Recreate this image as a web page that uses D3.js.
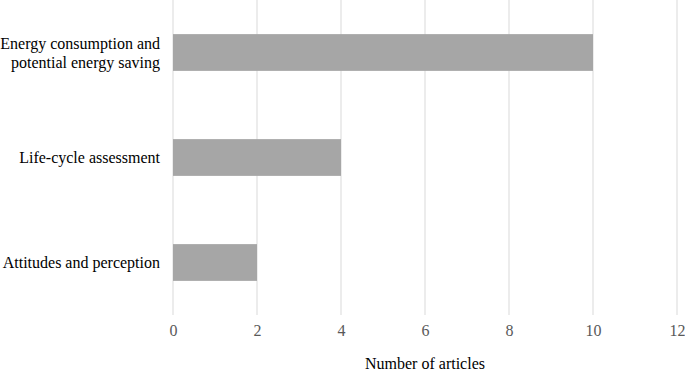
<!DOCTYPE html>
<html>
<head>
<meta charset="utf-8">
<script src="https://cdn.jsdelivr.net/npm/d3@7"></script>
<style>
  body { margin: 0; background: #fff; }
  text { font-family: "Liberation Serif", "Times New Roman", serif; }
</style>
</head>
<body>
<svg id="chart"></svg>
<script>
// data
const categories = [
  ["Energy consumption and", "potential energy saving"],
  ["Life-cycle assessment"],
  ["Attitudes and perception"]
];
const counts = [10, 4, 2];
const xTicks = [0, 2, 4, 6, 8, 10, 12];

const width = 685;
const height = 375;
const margin = { top: 0, right: 8, bottom: 60, left: 173 };

const svg = d3.select("#chart")
    .attr("width", width)
    .attr("height", height);

const x = d3.scaleLinear()
    .domain([0, 12])
    .range([margin.left, 677]);

const y = d3.scaleBand()
    .domain(d3.range(categories.length))
    .range([margin.top, 315])
    .paddingInner(0.65)
    .paddingOuter(0.325);

// gridlines
svg.append("g")
    .selectAll("line")
    .data(xTicks)
    .enter()
    .append("line")
    .attr("x1", d => x(d))
    .attr("x2", d => x(d))
    .attr("y1", 0)
    .attr("y2", 315)
    .attr("stroke", "#d9d9d9")
    .attr("stroke-width", 1);

// bars
svg.selectAll(".bar")
    .data(counts)
    .enter()
    .append("rect")
    .attr("x", x(0))
    .attr("y", (d, i) => y(i))
    .attr("width", d => x(d) - x(0))
    .attr("height", y.bandwidth())
    .attr("fill", "#a6a6a6");

// x axis tick labels
const xAxis = svg.append("g")
    .attr("transform", `translate(0,315)`)
    .call(d3.axisBottom(x).tickValues(xTicks).tickSize(0).tickPadding(10));
xAxis.select(".domain").remove();
xAxis.selectAll("text")
    .attr("font-size", 16)
    .attr("fill", "#595959");

// category labels
const labels = svg.append("g");
categories.forEach((lines, i) => {
    const cy = y(i) + y.bandwidth() / 2;
    const t = labels.append("text")
        .attr("text-anchor", "end")
        .attr("font-size", 16)
        .attr("fill", "#000");
    lines.forEach((ln, j) => {
        t.append("tspan")
            .attr("x", 160)
            .attr("y", cy + 5.5 + (j - (lines.length - 1) / 2) * 19)
            .text(ln);
    });
});

// axis title
svg.append("text")
    .attr("x", (x(0) + x(12)) / 2)
    .attr("y", 369)
    .attr("text-anchor", "middle")
    .attr("font-size", 16)
    .attr("fill", "#000")
    .text("Number of articles");
</script>
</body>
</html>
